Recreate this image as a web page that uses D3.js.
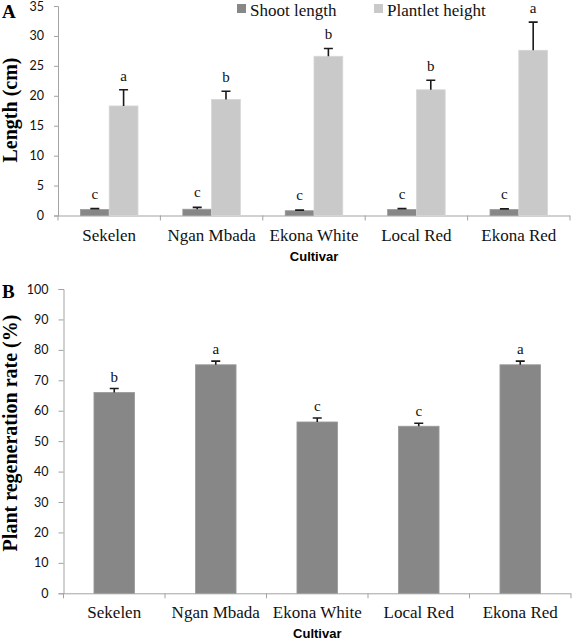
<!DOCTYPE html>
<html>
<head>
<meta charset="utf-8">
<script src="https://cdn.jsdelivr.net/npm/d3@7"></script>
<style>
  html, body { margin: 0; padding: 0; background: #fff; }
  svg { display: block; }
  .serif { font-family: "Liberation Serif", "Times New Roman", serif; }
  .sans { font-family: Lato, "Open Sans", sans-serif; }
  .arial { font-family: "Liberation Sans", Arial, sans-serif; }
</style>
</head>
<body>
<svg id="chart" width="572" height="642"></svg>
<script>
// ---------- DATA ----------
const cultivars = ["Sekelen", "Ngan Mbada", "Ekona White", "Local Red", "Ekona Red"];
const seriesA = ["Shoot length", "Plantlet height"];
const shootLength = [1.0, 1.05, 0.8, 1.0, 1.0];
const shootErr = [0.15, 0.3, 0.1, 0.15, 0.1];
const shootLetters = ["c", "c", "c", "c", "c"];
const plantletHeight = [18.3, 19.4, 26.6, 21.0, 27.6];
const plantletErr = [2.7, 1.35, 1.3, 1.6, 4.7];
const plantletLetters = ["a", "b", "b", "b", "a"];
const ticksA = [0, 5, 10, 15, 20, 25, 30, 35];

const regenRate = [66.0, 75.1, 56.3, 54.9, 75.1];
const regenErr = [1.3, 1.2, 1.3, 1.0, 1.2];
const regenLetters = ["b", "a", "c", "c", "a"];
const ticksB = [0, 10, 20, 30, 40, 50, 60, 70, 80, 90, 100];

// ---------- STYLE ----------
const colShoot = "#878787";
const colPlant = "#c9c9c9";
const axisCol = "#a3a3a3";
const errCol = "#1a1a1a";

const svg = d3.select("#chart");

function drawPanel(opt) {
  const g = svg.append("g");
  const x0 = d3.scaleBand().domain(cultivars).range([opt.left, opt.right]).padding(0);
  const y = d3.scaleLinear().domain(opt.domain).range([opt.bottom, opt.top]);

  // y axis
  const yAxis = d3.axisLeft(y).tickValues(opt.ticks).tickSize(opt.tickLen).tickPadding(opt.tickPad);
  const ya = g.append("g").attr("transform", `translate(${opt.left},0)`).call(yAxis);
  ya.attr("font-family", null).attr("font-size", null);
  ya.select(".domain").attr("stroke", axisCol).attr("stroke-width", 1);
  ya.selectAll(".tick line").attr("stroke", axisCol);
  ya.selectAll(".tick text").attr("class", "sans").style("font-size", "12.5px").attr("fill", "#111");

  // x axis
  const xAxis = d3.axisBottom(x0).tickSize(0).tickPadding(opt.xLabelPad);
  const xa = g.append("g").attr("transform", `translate(0,${opt.bottom})`).call(xAxis);
  xa.attr("font-family", null).attr("font-size", null);
  xa.select(".domain").attr("stroke", axisCol).attr("stroke-width", 1)
    .attr("d", `M${opt.left},0.5H${opt.right}`);
  xa.selectAll(".tick text").attr("class", "serif").style("font-size", "17px").attr("fill", "#111");
  // boundary ticks
  const bounds = cultivars.map(c => x0(c)).concat([x0.range()[1]]);
  xa.selectAll(".bound").data(bounds).join("line").attr("class", "bound")
    .attr("x1", d => d).attr("x2", d => d).attr("y1", 0).attr("y2", 5)
    .attr("stroke", axisCol);

  // x axis title
  g.append("text").attr("x", (opt.left + opt.right) / 2).attr("y", opt.titleY)
    .attr("text-anchor", "middle").attr("class", "arial").style("font-weight", "bold")
    .style("font-size", "13px").text("Cultivar");

  // y axis title
  g.append("text")
    .attr("transform", `translate(${opt.yTitleX},${opt.yTitleCY}) rotate(-90)`)
    .attr("text-anchor", "middle").attr("class", "serif").style("font-weight", "bold")
    .style("font-size", "20px").text(opt.yTitle);

  // panel letter
  g.append("text").attr("x", 2).attr("y", opt.panelY).attr("class", "serif")
    .style("font-weight", "bold").style("font-size", "19px").text(opt.panel);

  return { g, x0, y };
}

function drawBars(g, y, xs, w, values, errs, letters, color, stroke, letterOff) {
  const d = values.map((v, i) => ({ v, e: errs[i], l: letters[i], x: xs[i] }));
  g.selectAll(null).data(d).join("rect")
    .attr("x", p => p.x).attr("width", w)
    .attr("y", p => y(p.v)).attr("height", p => y(0) - y(p.v))
    .attr("fill", color).attr("stroke", stroke).attr("stroke-width", 0.8);
  // error bars (upper only)
  g.selectAll(null).data(d).join("path")
    .attr("d", p => {
      const cx = p.x + w / 2;
      return `M${cx},${y(p.v)}V${y(p.v + p.e)}M${cx - 4.5},${y(p.v + p.e)}H${cx + 4.5}`;
    })
    .attr("stroke", errCol).attr("stroke-width", 1.6).attr("fill", "none");
  g.selectAll(null).data(d).join("text")
    .attr("x", p => p.x + w / 2).attr("y", p => y(p.v + p.e) - letterOff)
    .attr("text-anchor", "middle").attr("class", "serif").style("font-size", "15px")
    .attr("fill", "#111").text(p => p.l);
}

// ---------- PANEL A ----------
const A = drawPanel({
  left: 58, right: 570, top: 6, bottom: 215.5, domain: [0, 35], ticks: ticksA,
  tickLen: 4, tickPad: 10, xLabelPad: 13.5, titleY: 261,
  yTitle: "Length (cm)", yTitleX: 17, yTitleCY: 110, panel: "A", panelY: 18
});
{
  const bw = A.x0.bandwidth();
  const x1 = d3.scaleBand().domain(seriesA).range([bw * 0.219, bw * 0.781]).padding(0);
  const xsShoot = cultivars.map(c => A.x0(c) + x1(seriesA[0]));
  const xsPlant = cultivars.map(c => A.x0(c) + x1(seriesA[1]));
  drawBars(A.g, A.y, xsShoot, x1.bandwidth(), shootLength, shootErr, shootLetters, colShoot, "#9a9a9a", 10);
  drawBars(A.g, A.y, xsPlant, x1.bandwidth(), plantletHeight, plantletErr, plantletLetters, colPlant, "#d6d6d6", 9);

  // legend
  const leg = A.g.append("g");
  const legX = [237, 374];
  const legColors = [colShoot, colPlant];
  seriesA.forEach((s, i) => {
    leg.append("rect").attr("x", legX[i]).attr("y", 4).attr("width", 9).attr("height", 9)
      .attr("fill", legColors[i]);
    leg.append("text").attr("x", legX[i] + 13).attr("y", 16).attr("class", "serif")
      .style("font-size", "17px").attr("fill", "#111").text(s);
  });
}

// ---------- PANEL B ----------
const B = drawPanel({
  left: 63.5, right: 571, top: 289, bottom: 593.3, domain: [0, 100], ticks: ticksB,
  tickLen: 5, tickPad: 10, xLabelPad: 12.7, titleY: 638,
  yTitle: "Plant regeneration rate (%)", yTitleX: 17, yTitleCY: 433, panel: "B", panelY: 298
});
{
  const bw = B.x0.bandwidth();
  const w = bw * 0.4;
  const xs = cultivars.map(c => B.x0(c) + (bw - w) / 2);
  drawBars(B.g, B.y, xs, w, regenRate, regenErr, regenLetters, colShoot, "#9a9a9a", 7);
}
</script>
</body>
</html>
